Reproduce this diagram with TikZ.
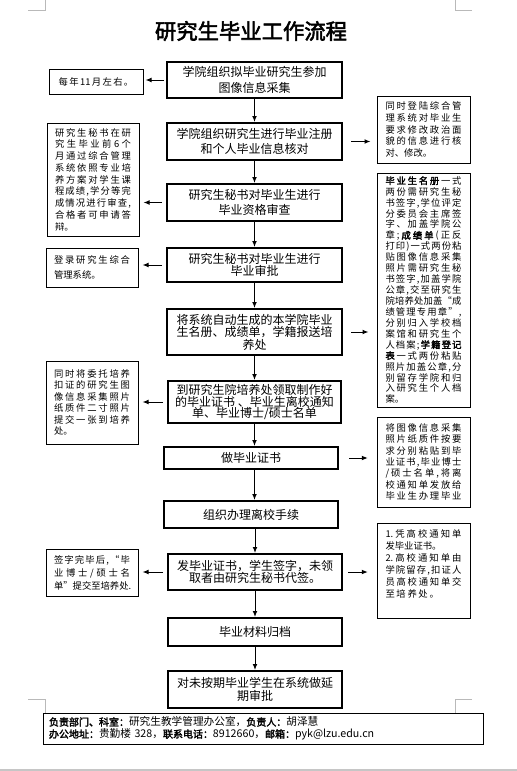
\documentclass[tikz,border=0pt]{standalone}
\usepackage{fontspec}
\setmainfont{Noto Sans CJK SC}[AutoFakeBold=2.5]
\usetikzlibrary{arrows.meta}
\newdimen\sidew
\sidew=57pt
\def\sprEnd{sprEnd}
\newcommand\spr[2][\sidew]{\hbox to #1{\sprA#2\sprEnd}}
\def\sprA#1{{#1}\sprB}
\def\sprB#1{\ifx\sprEnd#1\else\hfill{#1}\expandafter\sprB\fi}
\newcommand\B{\bfseries}
\begin{document}
\begin{tikzpicture}[x=0.75pt,y=-0.75pt,
  mainbox/.style={draw, line width=1.5pt, inner sep=0pt, align=center},
  mfont/.style={font=\fontsize{9}{#1}\selectfont},
  sidebox/.style={draw, line width=0.75pt, inner sep=1pt, align=left},
  sfont/.style={font=\fontsize{7}{#1}\selectfont},
  arr/.style={-{Latex[length=4.5pt,width=3.6pt]}, line width=0.75pt},
  cornermark/.style={draw=gray!55, line width=0.75pt}
]
\useasboundingbox (0,0) rectangle (517,771);

% corner marks and bottom line
\draw[cornermark] (28,10) -- (45,10) -- (45,0);
\draw[cornermark] (472,10) -- (455,10) -- (455,0);
\draw[cornermark] (28,699) -- (45,699) -- (45,713);
\draw[cornermark] (472,699) -- (455,699) -- (455,713);
\draw[draw=gray!45, line width=1pt] (0,770) -- (517,770);

% title
\node (title) at (251,31) {\bfseries\fontsize{16}{18}\selectfont 研究生毕业工作流程};

% main boxes
\node[mainbox, mfont=12, minimum width=131.25pt, minimum height=27pt] (m1) at (254.5,80)
  {学院组织拟毕业研究生参加\\图像信息采集};
\node[mainbox, mfont=11.25, minimum width=131.25pt, minimum height=27.75pt] (m2) at (254.5,141.5)
  {学院组织研究生进行毕业注册\\和个人毕业信息核对};
\node[mainbox, mfont=10.75, minimum width=131.25pt, minimum height=27.75pt] (m3) at (254.5,202.5)
  {研究生秘书对毕业生进行\\毕业资格审查};
\node[mainbox, mfont=9, minimum width=131.25pt, minimum height=25.5pt] (m4) at (254.5,265)
  {研究生秘书对毕业生进行\\毕业审批};
\node[mainbox, mfont=9.4, minimum width=131.25pt, minimum height=34.5pt] (m5) at (254.5,332)
  {将系统自动生成的本学院毕业\\生名册、成绩单，学籍报送培\\养处};
\node[mainbox, mfont=8.6, minimum width=129.75pt, minimum height=31.5pt] (m6) at (254.5,402)
  {到研究生院培养处领取制作好\\的毕业证书 、毕业生离校通知\\单、毕业博士/硕士名单};
\node[mainbox, mfont=11, minimum width=130.5pt, minimum height=16.5pt] (m7) at (251,458)
  {做毕业证书};
\node[mainbox, mfont=11, minimum width=130.5pt, minimum height=20.25pt] (m8) at (251,514.5)
  {组织办理离校手续};
\node[mainbox, mfont=8.9, minimum width=130.5pt, minimum height=27pt] (m9) at (255,572)
  {发毕业证书，学生签字，未领\\取者由研究生秘书代签。};
\node[mainbox, mfont=11, minimum width=130.5pt, minimum height=21pt] (m10) at (255,632)
  {毕业材料归档};
\node[mainbox, mfont=9.3, minimum width=130.5pt, minimum height=27.75pt] (m11) at (255,689.5)
  {对未按期毕业学生在系统做延\\期审批};

% left boxes
\node[sidebox, sfont=8.5, minimum width=70.5pt, minimum height=18.75pt, align=center] (s1) at (96,81.5)
  {\spr[56pt]{每年{11}月左右。}};
\node[sidebox, sfont=8.8, minimum width=69pt, minimum height=84.75pt] (l2) at (93,179.5)
  {\spr{研究生秘书在研}\\
   \spr{究生毕业前{6}个}\\
   \spr{月通过综合管理}\\
   \spr{系统依照专业培}\\
   \spr{养方案对学生课}\\
   \spr{程成绩,学分等完}\\
   \spr{成情况进行审查,}\\
   \spr{合格者可申请答}\\
   辩。};
\node[sidebox, sfont=11.25, minimum width=69pt, minimum height=29.25pt] (l3) at (92,267.5)
  {\spr{登录研究生综合}\\
   管理系统。};
\node[sidebox, sfont=8.6, minimum width=69pt, minimum height=62.25pt] (l4) at (92,402.5)
  {\spr{同时将委托培养}\\
   \spr{扣证的研究生图}\\
   \spr{像信息采集照片}\\
   \spr{纸质件二寸照片}\\
   \spr{提交一张到培养}\\
   处。};
\node[sidebox, sfont=9.75, minimum width=69pt, minimum height=35.25pt] (l5) at (92,572.5)
  {\spr{签字完毕后,“毕}\\
   \spr{业博士/硕士名}\\
   \spr{单”提交至培养处.}};

% right boxes
\node[sidebox, sfont=8.75, minimum width=69.75pt, minimum height=50.25pt] (r1) at (423.5,129.5)
  {\spr{同时登陆综合管}\\
   \spr{理系统对毕业生}\\
   \spr{要求修改政治面}\\
   \spr{貌的信息进行核}\\
   对、修改。};
\node[sidebox, sfont=8.2, minimum width=69.75pt, minimum height=175.5pt] (r2) at (423.5,290)
  {\spr{{\B 毕}{\B 业}{\B 生}{\B 名}{\B 册}一式}\\
   \spr{两份需研究生秘}\\
   \spr{书签字,学位评定}\\
   \spr{分委员会主席签}\\
   \spr{字、加盖学院公}\\
   \spr{章;{\B 成}{\B 绩}{\B 单}(正反}\\
   \spr{打印)一式两份粘}\\
   \spr{贴图像信息采集}\\
   \spr{照片需研究生秘}\\
   \spr{书签字,加盖学院}\\
   \spr{公章,交至研究生}\\
   \spr{院培养处加盖“成}\\
   \spr{绩管理专用章”,}\\
   \spr{分别归入学校档}\\
   \spr{案馆和研究生个}\\
   \spr{人档案;{\B 学}{\B 籍}{\B 登}{\B 记}}\\
   \spr{{\B 表}一式两份粘贴}\\
   \spr{照片加盖公章,分}\\
   \spr{别留存学院和归}\\
   \spr{入研究生个人档}\\
   案。};
\node[sidebox, sfont=8.5, minimum width=69.75pt, minimum height=67.5pt] (r3) at (423.5,462)
  {\spr{将图像信息采集}\\
   \spr{照片纸质件按要}\\
   \spr{求分别粘贴到毕}\\
   \spr{业证书,毕业博士}\\
   \spr{/硕士名单,将离}\\
   \spr{校通知单发放给}\\
   \spr{毕业生办理毕业}};
\node[sidebox, sfont=9, minimum width=69.75pt, minimum height=71.25pt] (r4) at (423.5,570.5)
  {\spr{{1.}凭高校通知单}\\
   \spr[40pt]{发毕业证书。}\\
   \spr{{2.}高校通知单由}\\
   \spr{学院留存,扣证人}\\
   \spr{员高校通知单交}\\
   \spr[40pt]{至培养处。}\\[2pt]
   \mbox{}};

% footer
\node[draw, line width=0.75pt, minimum width=330pt, minimum height=23.25pt, inner xsep=4.5pt, inner ysep=1pt,
      text width=321pt, align=left, font=\fontsize{8}{9}\selectfont] (foot) at (263,728.5)
  {{\B\fontsize{7.5}{9}\selectfont 负责部门、科室：}研究生教学管理办公室，{\B\fontsize{7.5}{9}\selectfont 负责人：}胡泽慧\\
   {\B\fontsize{7.5}{9}\selectfont 办公地址：}贵勤楼 328，{\B\fontsize{7.5}{9}\selectfont 联系电话：}8912660，{\B\fontsize{7.5}{9}\selectfont 邮箱：}pyk@lzu.edu.cn};

% vertical arrows
\draw[arr] (m1.south) -- (m2.north);
\draw[arr] (m2.south) -- (m3.north);
\draw[arr] (m3.south) -- (m4.north);
\draw[arr] (m4.south) -- (m5.north);
\draw[arr] (m5.south) -- (m6.north);
\draw[arr] (m6.south) -- (m6.south |- m7.north);
\draw[arr] (m7.south -| m6.south) -- (m8.north -| m6.south);
\draw[arr] (m8.south -| m9.south) -- (m9.north);
\draw[arr] (m9.south) -- (m10.north);
\draw[arr] (m10.south) -- (m11.north);

% left arrows
\draw[arr, shorten <=1.5pt, shorten >=1.5pt] (m1.west) -- (m1.west -| s1.east);
\draw[arr, shorten <=3pt, shorten >=3pt] (m3.west) -- (m3.west -| l2.east);
\draw[arr, shorten <=3pt, shorten >=3pt] (m4.west) -- (m4.west -| l3.east);
\draw[arr, shorten <=3pt, shorten >=3pt] (m6.west) -- (m6.west -| l4.east);
\draw[arr, shorten <=3pt, shorten >=3pt] (m9.west) -- (m9.west -| l5.east);

% right arrows
\draw[arr, shorten <=6pt, shorten >=4.5pt] (m2.east) -- (m2.east -| r1.west);
\draw[arr, shorten <=6pt, shorten >=6pt] (m5.east) -- (m5.east -| r2.west);
\draw[arr, shorten <=7.5pt, shorten >=6.5pt] (m7.east) -- (m7.east -| r3.west);
\draw[arr, shorten <=4pt, shorten >=6.5pt] (m9.east) -- (m9.east -| r4.west);
\end{tikzpicture}
\end{document}
